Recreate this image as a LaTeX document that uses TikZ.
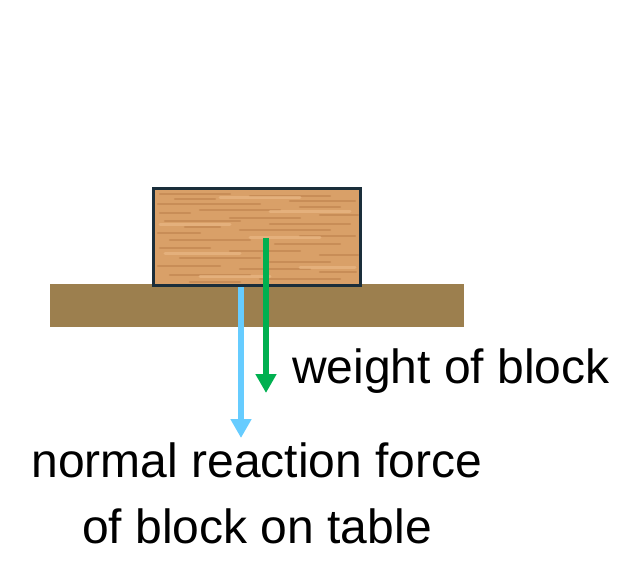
\documentclass[tikz,border=0pt]{standalone}
\usepackage{fontspec}
\setmainfont{Liberation Sans}
\usetikzlibrary{arrows.meta,calc,positioning}

\definecolor{woodbase}{HTML}{D9A068}
\definecolor{woodgrain}{HTML}{B57843}
\definecolor{woodlight}{HTML}{ECBC8A}
\definecolor{blockedge}{HTML}{1A2E3B}
\definecolor{tablebrown}{HTML}{9C7F4E}
\definecolor{wgreen}{HTML}{00B050}
\definecolor{nblue}{HTML}{66CCFF}

\begin{document}
\begin{tikzpicture}[x=1pt,y=-1pt,
  force/.style={line width=6pt, -{Triangle[width=20pt,length=19pt]}},
  lbl/.style={font=\fontsize{48}{66}\selectfont, inner sep=0pt}]
\useasboundingbox (0,0) rectangle (640,585);

\node[fill=tablebrown, minimum width=414pt, minimum height=43pt, inner sep=0pt] (table) at (257,305.5) {};
\node[fill=woodbase, minimum width=206pt, minimum height=96pt, inner sep=0pt] (block) at (257,237) {};

% grain of the wood
\foreach \yy/\xa/\xb in {194/160/230, 196/250/330, 199/175/215, 201/290/355, 204/158/260,
  207/300/340, 210/200/280, 213/160/190, 215/320/358, 218/230/300, 221/165/240,
  224/270/350, 227/185/220, 230/240/330, 233/158/200, 236/300/355, 240/170/250,
  244/275/340, 248/160/210, 251/230/300, 255/320/358, 258/180/260, 262/270/330,
  266/158/220, 269/240/310, 272/320/356, 275/170/250, 279/260/340, 282/190/240}
  \draw[woodgrain, opacity=0.45, line width=2.6pt, line cap=round] (\xa,\yy) -- (\xb,\yy);
\foreach \yy/\xa/\xb in {198/220/300, 212/270/350, 225/160/230, 238/250/320, 254/165/240, 268/300/355, 277/200/270}
  \draw[woodlight, opacity=0.6, line width=3pt, line cap=round] (\xa,\yy) -- (\xb,\yy);

\coordinate (ntop) at ($(block.south)+(-16,-1.5)$);
\coordinate (nend) at (241,438);
\draw[force, nblue] (ntop) -- (nend);

\draw[blockedge, line width=3pt] (block.south west) rectangle (block.north east);

\coordinate (wtop) at ($(block.center)+(9,1)$);
\coordinate (wend) at (266,393);
\draw[force, wgreen] (wtop) -- (wend);

\node[lbl, anchor=base west] (wlabel) at (292,383) {weight of block};
\node[lbl, align=center, anchor=base] (nlabel) at (257,543) {normal reaction force\\of block on table};
\end{tikzpicture}
\end{document}
